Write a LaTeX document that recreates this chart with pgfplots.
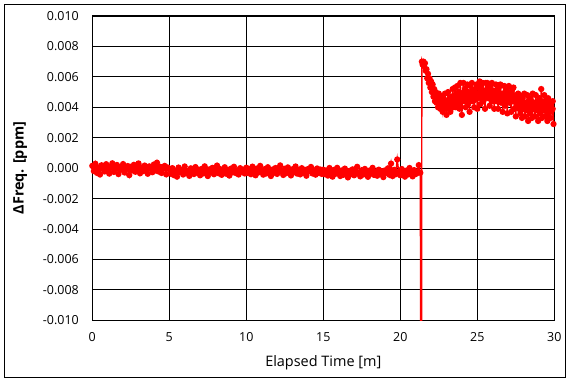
\documentclass[border=0pt]{standalone}
\usepackage{fontspec}
\setmainfont{Open Sans}
\usepackage{pgfplots}
\pgfplotsset{compat=1.18}
\begin{document}
\begin{tikzpicture}
\useasboundingbox (-92.3bp,-61.7bp) rectangle (478.7bp,320.3bp);
\draw[line width=1bp] (-87.3bp,-56.7bp) rectangle (473.4bp,315.3bp);
\begin{axis}[at={(0,0)}, anchor=south west, scale only axis,
  width=462bp, height=304.3bp,
  xmin=0, xmax=30, ymin=-0.01, ymax=0.01,
  xtick={0,5,10,15,20,25,30},
  xticklabels={0,5,10,15,20,25,30},
  ytick={-0.010,-0.008,-0.006,-0.004,-0.002,0,0.002,0.004,0.006,0.008,0.010},
  yticklabels={-0.010,-0.008,-0.006,-0.004,-0.002,0.000,0.002,0.004,0.006,0.008,0.010},
  scaled y ticks=false,
  grid=major,
  major grid style={black, line width=0.9bp},
  axis line style={black, line width=1bp},
  major tick length=0pt,
  tick label style={font=\fontsize{12.5}{14}\selectfont},
  yticklabel style={xshift=-10bp},
  xticklabel style={yshift=-9bp},
  xlabel={Elapsed Time [m]},
  xlabel style={at={(axis description cs:0.5,-0.1403)}, anchor=center, font=\fontsize{14.5}{16}\selectfont},
  ylabel={ΔFreq. [ppm]},
  ylabel style={at={(axis description cs:-0.156,0.5)}, anchor=center, font=\bfseries\fontsize{14.5}{16}\selectfont},
]
% intermediate samples (marks only)
\addplot[red, only marks, mark=*, mark size=2.4bp, mark options={solid, fill=red, draw=red}] coordinates {
(0.05,0.00008)(0.15,-0.00005)(0.25,0.00000)(0.35,-0.00010)(0.45,0.00004)(0.55,0.00010)(0.65,-0.00007)(0.75,0.00001)(0.85,0.00006)(0.95,-0.00003)
(1.05,-0.00009)(1.15,0.00003)(1.25,0.00000)(1.35,0.00009)(1.45,-0.00006)(1.55,0.00002)(1.65,-0.00002)(1.75,0.00007)(1.85,-0.00008)(1.95,0.00000)
(2.05,0.00006)(2.15,-0.00004)(2.25,0.00002)(2.35,-0.00011)(2.45,0.00005)(2.55,0.00009)(2.65,-0.00006)(2.75,0.00000)(2.85,0.00007)(2.95,-0.00002)
(3.05,-0.00010)(3.15,0.00004)(3.25,-0.00001)(3.35,0.00008)(3.45,-0.00005)(3.55,0.00003)(3.65,-0.00003)(3.75,0.00006)(3.85,-0.00009)(3.95,0.00001)
(4.05,0.00008)(4.15,-0.00005)(4.25,0.00000)(4.35,-0.00010)(4.45,0.00004)(4.55,0.00010)(4.65,-0.00007)(4.75,0.00001)(4.85,0.00006)(4.95,-0.00006)
(5.05,-0.00012)(5.15,-0.00025)(5.25,-0.00020)(5.35,-0.00030)(5.45,-0.00016)(5.55,-0.00010)(5.65,-0.00027)(5.75,-0.00019)(5.85,-0.00014)(5.95,-0.00023)
(6.05,-0.00029)(6.15,-0.00017)(6.25,-0.00020)(6.35,-0.00011)(6.45,-0.00026)(6.55,-0.00018)(6.65,-0.00022)(6.75,-0.00013)(6.85,-0.00028)(6.95,-0.00020)
(7.05,-0.00014)(7.15,-0.00024)(7.25,-0.00018)(7.35,-0.00031)(7.45,-0.00015)(7.55,-0.00011)(7.65,-0.00026)(7.75,-0.00020)(7.85,-0.00013)(7.95,-0.00022)
(8.05,-0.00030)(8.15,-0.00016)(8.25,-0.00021)(8.35,-0.00012)(8.45,-0.00025)(8.55,-0.00017)(8.65,-0.00023)(8.75,-0.00014)(8.85,-0.00029)(8.95,-0.00019)
(9.05,-0.00012)(9.15,-0.00025)(9.25,-0.00020)(9.35,-0.00030)(9.45,-0.00016)(9.55,-0.00010)(9.65,-0.00027)(9.75,-0.00019)(9.85,-0.00014)(9.95,-0.00023)
(10.05,-0.00010)(10.15,-0.00023)(10.25,-0.00018)(10.35,-0.00028)(10.45,-0.00014)(10.55,-0.00008)(10.65,-0.00025)(10.75,-0.00017)(10.85,-0.00012)(10.95,-0.00021)
(11.05,-0.00027)(11.15,-0.00015)(11.25,-0.00018)(11.35,-0.00009)(11.45,-0.00024)(11.55,-0.00016)(11.65,-0.00020)(11.75,-0.00011)(11.85,-0.00026)(11.95,-0.00018)
(12.05,-0.00012)(12.15,-0.00022)(12.25,-0.00016)(12.35,-0.00029)(12.45,-0.00013)(12.55,-0.00009)(12.65,-0.00024)(12.75,-0.00018)(12.85,-0.00011)(12.95,-0.00020)
(13.05,-0.00028)(13.15,-0.00014)(13.25,-0.00019)(13.35,-0.00010)(13.45,-0.00023)(13.55,-0.00015)(13.65,-0.00021)(13.75,-0.00012)(13.85,-0.00027)(13.95,-0.00017)
(14.05,-0.00010)(14.15,-0.00023)(14.25,-0.00018)(14.35,-0.00028)(14.45,-0.00014)(14.55,-0.00008)(14.65,-0.00025)(14.75,-0.00017)(14.85,-0.00012)(14.95,-0.00021)
(15.05,-0.00022)(15.15,-0.00035)(15.25,-0.00030)(15.35,-0.00040)(15.45,-0.00026)(15.55,-0.00020)(15.65,-0.00037)(15.75,-0.00029)(15.85,-0.00024)(15.95,-0.00033)
(16.05,-0.00039)(16.15,-0.00027)(16.25,-0.00030)(16.35,-0.00021)(16.45,-0.00036)(16.55,-0.00028)(16.65,-0.00032)(16.75,-0.00023)(16.85,-0.00038)(16.95,-0.00030)
(17.05,-0.00024)(17.15,-0.00034)(17.25,-0.00028)(17.35,-0.00041)(17.45,-0.00025)(17.55,-0.00021)(17.65,-0.00036)(17.75,-0.00030)(17.85,-0.00023)(17.95,-0.00032)
(18.05,-0.00040)(18.15,-0.00026)(18.25,-0.00031)(18.35,-0.00022)(18.45,-0.00035)(18.55,-0.00027)(18.65,-0.00033)(18.75,-0.00024)(18.85,-0.00039)(18.95,-0.00029)
(19.05,-0.00022)(19.15,-0.00035)(19.25,-0.00030)(19.35,-0.00040)(19.45,-0.00026)(19.55,-0.00020)(19.65,-0.00037)(19.75,-0.00029)(19.85,-0.00024)(19.95,-0.00033)
(20.05,-0.00039)(20.15,-0.00027)(20.25,-0.00030)(20.35,-0.00021)(20.45,-0.00036)(20.55,-0.00028)(20.65,-0.00032)(20.75,-0.00023)(20.85,-0.00038)(20.95,-0.00030)
(21.05,-0.00024)(21.15,-0.00034)(21.25,-0.00028)
(22.525,0.0045)(22.575,0.0042)(22.625,0.0043)(22.675,0.0040)(22.725,0.0044)(22.775,0.0046)(22.825,0.0041)(22.875,0.0043)(22.925,0.0045)(22.975,0.0042)
(23.025,0.0040)(23.075,0.0044)(23.125,0.0043)(23.175,0.0046)(23.225,0.0041)(23.275,0.0044)(23.325,0.0042)(23.375,0.0045)(23.425,0.0040)(23.475,0.0043)
(23.525,0.0045)(23.575,0.0044)(23.625,0.0049)(23.675,0.0046)(23.725,0.0047)(23.775,0.0044)(23.825,0.0048)(23.875,0.0050)(23.925,0.0045)(23.975,0.0047)
(24.025,0.0049)(24.075,0.0046)(24.125,0.0044)(24.175,0.0048)(24.225,0.0047)(24.275,0.0050)(24.325,0.0045)(24.375,0.0048)(24.425,0.0046)(24.475,0.0049)
(24.525,0.0044)(24.575,0.0047)(24.625,0.0049)(24.675,0.0046)(24.725,0.0047)(24.775,0.0044)(24.825,0.0048)(24.875,0.0050)(24.925,0.0045)(24.975,0.0047)
(25.025,0.0049)(25.075,0.0046)(25.125,0.0046)(25.175,0.0050)(25.225,0.0049)(25.275,0.0052)(25.325,0.0047)(25.375,0.0050)(25.425,0.0048)(25.475,0.0051)
(25.525,0.0046)(25.575,0.0049)(25.625,0.0051)(25.675,0.0048)(25.725,0.0049)(25.775,0.0046)(25.825,0.0050)(25.875,0.0052)(25.925,0.0047)(25.975,0.0049)
(26.025,0.0051)(26.075,0.0048)(26.125,0.0046)(26.175,0.0050)(26.225,0.0046)(26.275,0.0049)(26.325,0.0044)(26.375,0.0047)(26.425,0.0045)(26.475,0.0048)
(26.525,0.0043)(26.575,0.0046)(26.625,0.0048)(26.675,0.0045)(26.725,0.0046)(26.775,0.0043)(26.825,0.0047)(26.875,0.0049)(26.925,0.0044)(26.975,0.0046)
(27.025,0.0048)(27.075,0.0045)(27.125,0.0043)(27.175,0.0047)(27.225,0.0046)(27.275,0.0049)(27.325,0.0044)(27.375,0.0047)(27.425,0.0045)(27.475,0.0048)
(27.525,0.0043)(27.575,0.0046)(27.625,0.0048)(27.675,0.0045)(27.725,0.0041)(27.775,0.0038)(27.825,0.0042)(27.875,0.0044)(27.925,0.0039)(27.975,0.0041)
(28.025,0.0043)(28.075,0.0040)(28.125,0.0038)(28.175,0.0042)(28.225,0.0041)(28.275,0.0044)(28.325,0.0039)(28.375,0.0042)(28.425,0.0040)(28.475,0.0043)
(28.525,0.0038)(28.575,0.0041)(28.625,0.0043)(28.675,0.0040)(28.725,0.0041)(28.775,0.0038)(28.825,0.0042)(28.875,0.0044)(28.925,0.0039)(28.975,0.0041)
(29.025,0.0043)(29.075,0.0040)(29.125,0.0038)(29.175,0.0042)(29.225,0.0041)(29.275,0.0044)(29.325,0.0039)(29.375,0.0042)(29.425,0.0040)(29.475,0.0043)
(29.525,0.0038)(29.575,0.0041)(29.625,0.0043)(29.675,0.0040)(29.725,0.0041)(29.775,0.0038)(29.825,0.0042)(29.875,0.0044)(29.925,0.0039)
};
\addplot[red, line width=1.4bp, mark=*, mark size=2.4bp, mark options={solid, fill=red, draw=red}] coordinates {
(0.0,0.00015)(0.1,-0.00019)(0.2,0.00029)(0.3,-0.00031)(0.4,0.00004)(0.5,-0.00042)(0.6,0.00019)(0.7,0.00000)(0.8,-0.00022)(0.9,0.00026)
(1.0,-0.00014)(1.1,-0.00036)(1.2,0.00010)(1.3,0.00032)(1.4,-0.00025)(1.5,-0.00005)(1.6,0.00021)(1.7,-0.00039)(1.8,0.00007)(1.9,-0.00010)
(2.0,0.00027)(2.1,-0.00029)(2.2,-0.00002)(2.3,0.00014)(2.4,-0.00046)(2.5,0.00009)(2.6,-0.00015)(2.7,0.00022)(2.8,-0.00024)(2.9,0.00002)
(3.0,0.00031)(3.1,-0.00034)(3.2,0.00005)(3.3,-0.00020)(3.4,0.00017)(3.5,-0.00008)(3.6,-0.00037)(3.7,0.00012)(3.8,-0.00003)(3.9,-0.00027)
(4.0,0.00024)(4.1,-0.00015)(4.2,0.00036)(4.3,-0.00022)(4.4,0.00009)(4.5,-0.00032)(4.6,0.00000)(4.7,0.00015)(4.8,-0.00041)(4.9,0.00004)
(5.0,-0.00006)(5.1,-0.00037)(5.2,0.00000)(5.3,-0.00046)(5.4,-0.00017)(5.5,-0.00056)(5.6,0.00004)(5.7,-0.00027)(5.8,-0.00012)(5.9,-0.00042)
(6.0,0.00011)(6.1,-0.00032)(6.2,-0.00018)(6.3,-0.00051)(6.4,-0.00001)(6.5,-0.00023)(6.6,-0.00039)(6.7,0.00007)(6.8,-0.00030)(6.9,-0.00010)
(7.0,-0.00047)(7.1,-0.00005)(7.2,-0.00035)(7.3,0.00012)(7.4,-0.00025)(7.5,-0.00052)(7.6,-0.00008)(7.7,-0.00029)(7.8,0.00002)(7.9,-0.00040)
(8.0,-0.00015)(8.1,0.00017)(8.2,-0.00034)(8.3,-0.00006)(8.4,-0.00044)(8.5,-0.00020)(8.6,0.00006)(8.7,-0.00037)(8.8,-0.00013)(8.9,-0.00049)
(9.0,-0.00003)(9.1,-0.00027)(9.2,0.00009)(9.3,-0.00032)(9.4,-0.00017)(9.5,-0.00042)(9.6,0.00000)(9.7,-0.00022)(9.8,-0.00010)(9.9,-0.00035)
(10.0,0.00003)(10.1,-0.00031)(10.2,-0.00007)(10.3,-0.00040)(10.4,0.00010)(10.5,-0.00021)(10.6,-0.00047)(10.7,-0.00002)(10.8,-0.00028)(10.9,0.00015)
(11.0,-0.00016)(11.1,-0.00043)(11.2,-0.00006)(11.3,-0.00035)(11.4,0.00006)(11.5,-0.00024)(11.6,-0.00052)(11.7,-0.00009)(11.8,-0.00030)(11.9,0.00001)
(12.0,-0.00038)(12.1,-0.00013)(12.2,0.00018)(12.3,-0.00023)(12.4,-0.00045)(12.5,-0.00004)(12.6,-0.00033)(12.7,0.00005)(12.8,-0.00019)(12.9,-0.00048)
(13.0,-0.00007)(13.1,-0.00026)(13.2,0.00011)(13.3,-0.00036)(13.4,-0.00014)(13.5,-0.00041)(13.6,0.00000)(13.7,-0.00030)(13.8,-0.00011)(13.9,-0.00050)
(14.0,-0.00006)(14.1,-0.00021)(14.2,0.00008)(14.3,-0.00035)(14.4,-0.00016)(14.5,-0.00043)(14.6,-0.00002)(14.7,-0.00031)(14.8,-0.00009)(14.9,-0.00038)
(15.0,-0.00010)(15.1,-0.00040)(15.2,-0.00016)(15.3,-0.00049)(15.4,0.00001)(15.5,-0.00030)(15.6,-0.00056)(15.7,-0.00011)(15.8,-0.00037)(15.9,0.00002)
(16.0,-0.00025)(16.1,-0.00052)(16.2,-0.00015)(16.3,-0.00044)(16.4,-0.00003)(16.5,-0.00033)(16.6,-0.00061)(16.7,-0.00018)(16.8,-0.00039)(16.9,-0.00008)
(17.0,-0.00047)(17.1,-0.00022)(17.2,0.00009)(17.3,-0.00032)(17.4,-0.00054)(17.5,-0.00013)(17.6,-0.00042)(17.7,-0.00005)(17.8,-0.00028)(17.9,-0.00057)
(18.0,-0.00016)(18.1,-0.00035)(18.2,0.00002)(18.3,-0.00045)(18.4,-0.00023)(18.5,-0.00050)(18.6,-0.00010)(18.7,-0.00039)(18.8,-0.00020)(18.9,-0.00059)
(19.0,-0.00015)(19.1,-0.00030)(19.2,-0.00001)(19.3,-0.00044)(19.4,0.00030)(19.5,-0.00052)(19.6,-0.00011)(19.7,-0.00040)(19.8,0.00057)(19.9,-0.00027)
(20.0,-0.00047)(20.1,-0.00006)(20.2,-0.00037)(20.3,-0.00056)(20.4,-0.00016)(20.5,-0.00042)(20.6,0.00001)(20.7,-0.00032)(20.8,-0.00054)(20.9,-0.00013)
(21.0,-0.00039)(21.1,-0.00023)(21.2,0.00020)(21.3,-0.00030)
(21.36,-0.03)
(21.40,0.0070)(21.45,0.0068)(21.50,0.0070)(21.55,0.0067)(21.60,0.0069)(21.65,0.0064)(21.70,0.0065)(21.75,0.0059)(21.80,0.0062)(21.85,0.0056)
(21.90,0.0059)(21.95,0.0053)(22.00,0.0057)(22.05,0.0050)(22.10,0.0055)(22.15,0.0047)(22.20,0.0052)(22.25,0.0044)(22.30,0.0050)(22.35,0.0043)
(22.40,0.0048)(22.45,0.0040)(22.50,0.0049)(22.55,0.0044)(22.60,0.0039)(22.65,0.0047)(22.70,0.0040)(22.75,0.0037)(22.80,0.0045)(22.85,0.0039)
(22.90,0.0049)(22.95,0.0040)(23.00,0.0035)(23.05,0.0043)(23.10,0.0050)(23.15,0.0039)(23.20,0.0045)(23.25,0.0037)(23.30,0.0047)(23.35,0.0042)
(23.40,0.0052)(23.45,0.0040)(23.50,0.0045)(23.55,0.0053)(23.60,0.0040)(23.65,0.0047)(23.70,0.0054)(23.75,0.0042)(23.80,0.0050)(23.85,0.0039)
(23.90,0.0056)(23.95,0.0045)(24.00,0.0035)(24.05,0.0049)(24.10,0.0056)(24.15,0.0044)(24.20,0.0052)(24.25,0.0040)(24.30,0.0047)(24.35,0.0055)
(24.40,0.0042)(24.45,0.0050)(24.50,0.0037)(24.55,0.0054)(24.60,0.0045)(24.65,0.0056)(24.70,0.0044)(24.75,0.0050)(24.80,0.0040)(24.85,0.0052)
(24.90,0.0047)(24.95,0.0055)(25.00,0.0039)(25.05,0.0049)(25.10,0.0053)(25.15,0.0057)(25.20,0.0042)(25.25,0.0054)(25.30,0.0047)(25.35,0.0056)
(25.40,0.0044)(25.45,0.0051)(25.50,0.0039)(25.55,0.0056)(25.60,0.0049)(25.65,0.0056)(25.70,0.0046)(25.75,0.0052)(25.80,0.0041)(25.85,0.0054)
(25.90,0.0047)(25.95,0.0056)(26.00,0.0044)(26.05,0.0051)(26.10,0.0039)(26.15,0.0049)(26.20,0.0055)(26.25,0.0044)(26.30,0.0051)(26.35,0.0039)
(26.40,0.0053)(26.45,0.0046)(26.50,0.0055)(26.55,0.0043)(26.60,0.0049)(26.65,0.0037)(26.70,0.0048)(26.75,0.0054)(26.80,0.0041)(26.85,0.0051)
(26.90,0.0044)(26.95,0.0036)(27.00,0.0049)(27.05,0.0054)(27.10,0.0043)(27.15,0.0048)(27.20,0.0037)(27.25,0.0051)(27.30,0.0044)(27.35,0.0053)
(27.40,0.0039)(27.45,0.0046)(27.50,0.0034)(27.55,0.0048)(27.60,0.0041)(27.65,0.0049)(27.70,0.0039)(27.75,0.0048)(27.80,0.0036)(27.85,0.0044)
(27.90,0.0033)(27.95,0.0046)(28.00,0.0039)(28.05,0.0049)(28.10,0.0034)(28.15,0.0043)(28.20,0.0038)(28.25,0.0048)(28.30,0.0031)(28.35,0.0041)
(28.40,0.0046)(28.45,0.0036)(28.50,0.0044)(28.55,0.0033)(28.60,0.0049)(28.65,0.0039)(28.70,0.0043)(28.75,0.0034)(28.80,0.0048)(28.85,0.0038)
(28.90,0.0044)(28.95,0.0031)(29.00,0.0041)(29.05,0.0046)(29.10,0.0036)(29.15,0.0052)(29.20,0.0033)(29.25,0.0043)(29.30,0.0038)(29.35,0.0048)
(29.40,0.0034)(29.45,0.0044)(29.50,0.0039)(29.55,0.0031)(29.60,0.0046)(29.65,0.0036)(29.70,0.0043)(29.75,0.0033)(29.80,0.0041)(29.85,0.0038)
(29.90,0.0044)(29.95,0.0029)
};
\end{axis}
\end{tikzpicture}
\end{document}
